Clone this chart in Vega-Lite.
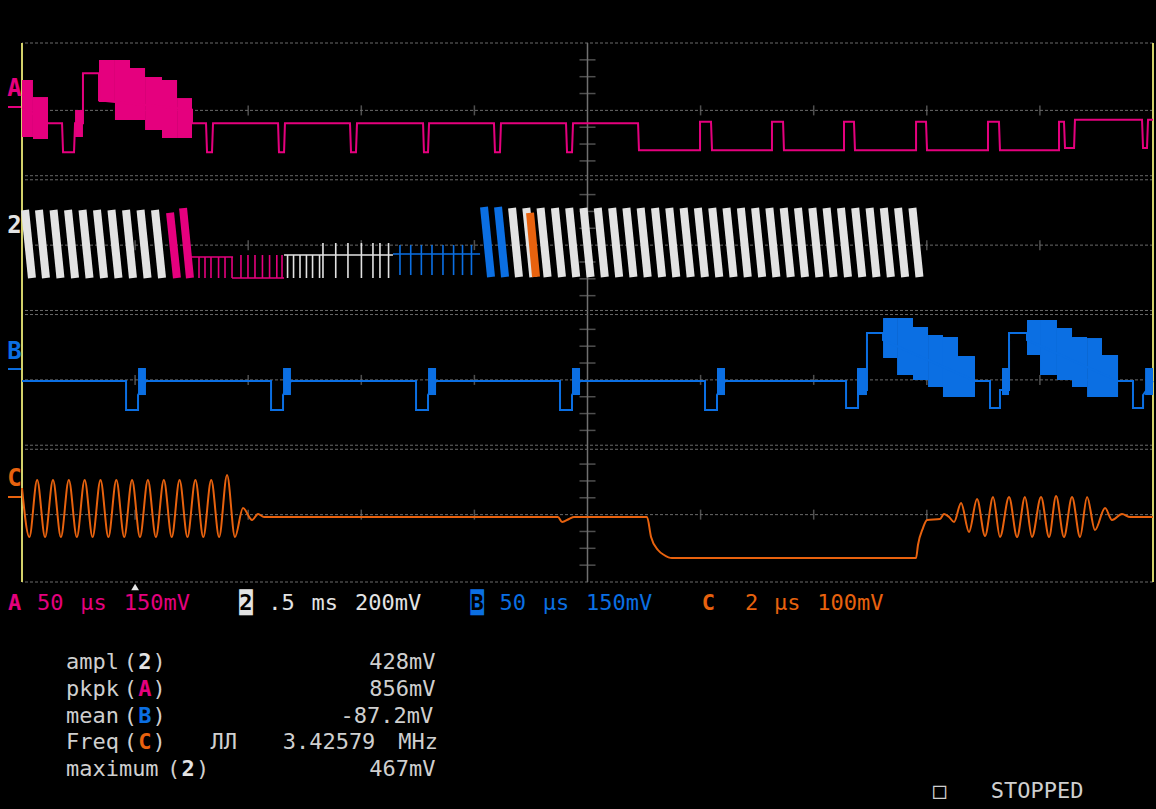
{
  "$schema": "https://vega.github.io/schema/vega-lite/v6.json",
  "width": 1131,
  "height": 539,
  "autosize": {"type": "none"},
  "padding": {"left": 22, "top": 43, "right": 3, "bottom": 227},
  "background": "#000000",
  "config": {"view": {"stroke": null}},
  "resolve": {"scale": {"x": "independent", "y": "independent"}},
  "datasets": {
    "gridH": [{"v":0},{"v":1},{"v":1.97},{"v":2.03},{"v":3},{"v":3.97},{"v":4.03},{"v":5},{"v":5.97},{"v":6.03},{"v":7},{"v":8}],
    "centerV": [{"t":5}],
    "border": [{"t":0},{"t":10}],
    "ticksV": [
      {"t":1,"v":1},{"t":2,"v":1},{"t":3,"v":1},{"t":4,"v":1},{"t":6,"v":1},{"t":7,"v":1},{"t":8,"v":1},{"t":9,"v":1},
      {"t":1,"v":3},{"t":2,"v":3},{"t":3,"v":3},{"t":4,"v":3},{"t":6,"v":3},{"t":7,"v":3},{"t":8,"v":3},{"t":9,"v":3},
      {"t":1,"v":5},{"t":2,"v":5},{"t":3,"v":5},{"t":4,"v":5},{"t":6,"v":5},{"t":7,"v":5},{"t":8,"v":5},{"t":9,"v":5},
      {"t":1,"v":7},{"t":2,"v":7},{"t":3,"v":7},{"t":4,"v":7},{"t":6,"v":7},{"t":7,"v":7},{"t":8,"v":7},{"t":9,"v":7}
    ],
    "ticksH": [
      {"t":5,"v":0.25},{"t":5,"v":0.5},{"t":5,"v":0.75},{"t":5,"v":1.25},{"t":5,"v":1.5},{"t":5,"v":1.75},
      {"t":5,"v":2.25},{"t":5,"v":2.5},{"t":5,"v":2.75},{"t":5,"v":3.25},{"t":5,"v":3.5},{"t":5,"v":3.75},
      {"t":5,"v":4.25},{"t":5,"v":4.5},{"t":5,"v":4.75},{"t":5,"v":5.25},{"t":5,"v":5.5},{"t":5,"v":5.75},
      {"t":5,"v":6.25},{"t":5,"v":6.5},{"t":5,"v":6.75},{"t":5,"v":7.25},{"t":5,"v":7.5},{"t":5,"v":7.75}
    ],
    "traceA": [
      {"t":0,"v":7.04},{"t":0.23,"v":6.81},{"t":0.354,"v":6.81},{"t":0.363,"v":6.38},{"t":0.46,"v":6.38},{"t":0.469,"v":6.81},
      {"t":0.495,"v":6.81},{"t":0.539,"v":6.81},{"t":0.539,"v":7.55},{"t":0.681,"v":7.55},{"t":0.681,"v":7.15},{"t":1.503,"v":7.01},
      {"t":1.503,"v":6.81},{"t":1.627,"v":6.81},{"t":1.636,"v":6.38},{"t":1.68,"v":6.38},{"t":1.689,"v":6.81},
      {"t":2.264,"v":6.81},{"t":2.272,"v":6.38},{"t":2.317,"v":6.38},{"t":2.325,"v":6.81},
      {"t":2.9,"v":6.81},{"t":2.909,"v":6.38},{"t":2.953,"v":6.38},{"t":2.962,"v":6.81},
      {"t":3.546,"v":6.81},{"t":3.554,"v":6.38},{"t":3.59,"v":6.38},{"t":3.599,"v":6.81},
      {"t":4.173,"v":6.81},{"t":4.182,"v":6.38},{"t":4.226,"v":6.38},{"t":4.235,"v":6.81},
      {"t":4.81,"v":6.81},{"t":4.819,"v":6.38},{"t":4.863,"v":6.38},{"t":4.872,"v":6.81},
      {"t":5.447,"v":6.81},{"t":5.455,"v":6.41},{"t":5.995,"v":6.41},{"t":5.995,"v":6.83},{"t":6.092,"v":6.83},{"t":6.101,"v":6.41},
      {"t":6.631,"v":6.41},{"t":6.631,"v":6.83},{"t":6.729,"v":6.83},{"t":6.737,"v":6.41},
      {"t":7.268,"v":6.41},{"t":7.268,"v":6.83},{"t":7.356,"v":6.83},{"t":7.365,"v":6.41},
      {"t":7.905,"v":6.41},{"t":7.905,"v":6.83},{"t":7.993,"v":6.83},{"t":8.002,"v":6.41},
      {"t":8.541,"v":6.41},{"t":8.541,"v":6.83},{"t":8.638,"v":6.83},{"t":8.647,"v":6.41},
      {"t":9.169,"v":6.41},{"t":9.169,"v":6.83},{"t":9.213,"v":6.83},{"t":9.222,"v":6.44},{"t":9.302,"v":6.44},{"t":9.31,"v":6.86},
      {"t":9.903,"v":6.86},{"t":9.912,"v":6.44},{"t":9.947,"v":6.44},{"t":9.956,"v":6.86},{"t":10,"v":6.86}
    ],
    "rectA": [
      {"t":0,"t2":0.097,"v":7.451,"v2":6.605},
      {"t":0.097,"t2":0.23,"v":7.198,"v2":6.575},
      {"t":0.469,"t2":0.539,"v":7.005,"v2":6.605},
      {"t":0.681,"t2":0.822,"v":7.748,"v2":7.124},
      {"t":0.822,"t2":0.955,"v":7.748,"v2":6.857},
      {"t":0.955,"t2":1.088,"v":7.629,"v2":6.857},
      {"t":1.088,"t2":1.238,"v":7.495,"v2":6.709},
      {"t":1.238,"t2":1.371,"v":7.451,"v2":6.59},
      {"t":1.371,"t2":1.503,"v":7.183,"v2":6.59}
    ],
    "teeth": [
      {"ch":"2","t":0.027,"v":5.521,"t2":0.088,"v2":4.512},
      {"ch":"2","t":0.15,"v":5.521,"t2":0.212,"v2":4.512},
      {"ch":"2","t":0.279,"v":5.521,"t2":0.34,"v2":4.512},
      {"ch":"2","t":0.407,"v":5.521,"t2":0.469,"v2":4.512},
      {"ch":"2","t":0.535,"v":5.521,"t2":0.597,"v2":4.512},
      {"ch":"2","t":0.663,"v":5.521,"t2":0.725,"v2":4.512},
      {"ch":"2","t":0.791,"v":5.521,"t2":0.853,"v2":4.512},
      {"ch":"2","t":0.92,"v":5.521,"t2":0.981,"v2":4.512},
      {"ch":"2","t":1.048,"v":5.521,"t2":1.11,"v2":4.512},
      {"ch":"2","t":1.176,"v":5.521,"t2":1.238,"v2":4.512},
      {"ch":"A","t":1.309,"v":5.48,"t2":1.37,"v2":4.512},
      {"ch":"A","t":1.424,"v":5.55,"t2":1.485,"v2":4.512},
      {"ch":"B","t":4.085,"v":5.566,"t2":4.147,"v2":4.527},
      {"ch":"B","t":4.209,"v":5.566,"t2":4.271,"v2":4.527},
      {"ch":"2","t":4.333,"v":5.551,"t2":4.394,"v2":4.527},
      {"ch":"2","t":4.459,"v":5.551,"t2":4.521,"v2":4.527},
      {"ch":"2","t":4.585,"v":5.551,"t2":4.647,"v2":4.527},
      {"ch":"2","t":4.712,"v":5.551,"t2":4.774,"v2":4.527},
      {"ch":"2","t":4.838,"v":5.551,"t2":4.9,"v2":4.527},
      {"ch":"2","t":4.965,"v":5.551,"t2":5.027,"v2":4.527},
      {"ch":"2","t":5.091,"v":5.551,"t2":5.153,"v2":4.527},
      {"ch":"2","t":5.218,"v":5.551,"t2":5.28,"v2":4.527},
      {"ch":"2","t":5.344,"v":5.551,"t2":5.406,"v2":4.527},
      {"ch":"2","t":5.47,"v":5.551,"t2":5.532,"v2":4.527},
      {"ch":"2","t":5.597,"v":5.551,"t2":5.659,"v2":4.527},
      {"ch":"2","t":5.723,"v":5.551,"t2":5.785,"v2":4.527},
      {"ch":"2","t":5.85,"v":5.551,"t2":5.912,"v2":4.527},
      {"ch":"2","t":5.976,"v":5.551,"t2":6.038,"v2":4.527},
      {"ch":"2","t":6.103,"v":5.551,"t2":6.165,"v2":4.527},
      {"ch":"2","t":6.229,"v":5.551,"t2":6.291,"v2":4.527},
      {"ch":"2","t":6.356,"v":5.551,"t2":6.417,"v2":4.527},
      {"ch":"2","t":6.482,"v":5.551,"t2":6.544,"v2":4.527},
      {"ch":"2","t":6.608,"v":5.551,"t2":6.67,"v2":4.527},
      {"ch":"2","t":6.735,"v":5.551,"t2":6.797,"v2":4.527},
      {"ch":"2","t":6.861,"v":5.551,"t2":6.923,"v2":4.527},
      {"ch":"2","t":6.988,"v":5.551,"t2":7.05,"v2":4.527},
      {"ch":"2","t":7.114,"v":5.551,"t2":7.176,"v2":4.527},
      {"ch":"2","t":7.241,"v":5.551,"t2":7.303,"v2":4.527},
      {"ch":"2","t":7.367,"v":5.551,"t2":7.429,"v2":4.527},
      {"ch":"2","t":7.494,"v":5.551,"t2":7.555,"v2":4.527},
      {"ch":"2","t":7.62,"v":5.551,"t2":7.682,"v2":4.527},
      {"ch":"2","t":7.746,"v":5.551,"t2":7.808,"v2":4.527},
      {"ch":"2","t":7.873,"v":5.551,"t2":7.935,"v2":4.527},
      {"ch":"C","t":4.492,"v":5.477,"t2":4.545,"v2":4.527}
    ],
    "combs": [
      {"ch":"A","t":1.494,"v":4.824,"t2":1.866,"v2":4.824},
      {"ch":"A","t":1.565,"v":4.824,"t2":1.565,"v2":4.512},
      {"ch":"A","t":1.618,"v":4.824,"t2":1.618,"v2":4.512},
      {"ch":"A","t":1.671,"v":4.824,"t2":1.671,"v2":4.512},
      {"ch":"A","t":1.738,"v":4.824,"t2":1.738,"v2":4.512},
      {"ch":"A","t":1.795,"v":4.824,"t2":1.795,"v2":4.512},
      {"ch":"A","t":1.857,"v":4.824,"t2":1.857,"v2":4.512},
      {"ch":"A","t":1.857,"v":4.512,"t2":2.317,"v2":4.512},
      {"ch":"A","t":1.936,"v":4.512,"t2":1.936,"v2":4.853},
      {"ch":"A","t":1.998,"v":4.512,"t2":1.998,"v2":4.853},
      {"ch":"A","t":2.06,"v":4.512,"t2":2.06,"v2":4.853},
      {"ch":"A","t":2.126,"v":4.512,"t2":2.126,"v2":4.853},
      {"ch":"A","t":2.189,"v":4.512,"t2":2.189,"v2":4.853},
      {"ch":"A","t":2.253,"v":4.512,"t2":2.253,"v2":4.853},
      {"ch":"A","t":2.299,"v":4.512,"t2":2.299,"v2":4.853},
      {"ch":"2","t":2.317,"v":4.853,"t2":3.28,"v2":4.853},
      {"ch":"2","t":2.348,"v":4.853,"t2":2.348,"v2":4.512},
      {"ch":"2","t":2.401,"v":4.853,"t2":2.401,"v2":4.512},
      {"ch":"2","t":2.458,"v":4.853,"t2":2.458,"v2":4.512},
      {"ch":"2","t":2.515,"v":4.853,"t2":2.515,"v2":4.512},
      {"ch":"2","t":2.569,"v":4.853,"t2":2.569,"v2":4.512},
      {"ch":"2","t":2.631,"v":4.853,"t2":2.631,"v2":4.512},
      {"ch":"2","t":2.661,"v":5.031,"t2":2.661,"v2":4.512},
      {"ch":"2","t":2.774,"v":5.031,"t2":2.774,"v2":4.512},
      {"ch":"2","t":2.882,"v":5.031,"t2":2.882,"v2":4.512},
      {"ch":"2","t":3.001,"v":5.031,"t2":3.001,"v2":4.512},
      {"ch":"2","t":3.103,"v":5.031,"t2":3.103,"v2":4.512},
      {"ch":"2","t":3.165,"v":5.031,"t2":3.165,"v2":4.512},
      {"ch":"2","t":3.241,"v":5.031,"t2":3.241,"v2":4.512},
      {"ch":"B","t":3.28,"v":4.868,"t2":4.05,"v2":4.868},
      {"ch":"B","t":3.342,"v":5.002,"t2":3.342,"v2":4.556},
      {"ch":"B","t":3.437,"v":5.002,"t2":3.437,"v2":4.556},
      {"ch":"B","t":3.531,"v":5.002,"t2":3.531,"v2":4.556},
      {"ch":"B","t":3.625,"v":5.002,"t2":3.625,"v2":4.556},
      {"ch":"B","t":3.722,"v":5.002,"t2":3.722,"v2":4.556},
      {"ch":"B","t":3.816,"v":5.002,"t2":3.816,"v2":4.556},
      {"ch":"B","t":3.895,"v":5.002,"t2":3.895,"v2":4.556},
      {"ch":"B","t":3.974,"v":5.002,"t2":3.974,"v2":4.556}
    ],
    "traceB": [
      {"t":0,"v":2.983},{"t":0.92,"v":2.983},{"t":0.92,"v":2.553},{"t":1.026,"v":2.553},{"t":1.026,"v":2.775},{"t":1.096,"v":2.983},
      {"t":2.202,"v":2.983},{"t":2.202,"v":2.553},{"t":2.308,"v":2.553},{"t":2.308,"v":2.775},{"t":2.378,"v":2.983},
      {"t":3.484,"v":2.983},{"t":3.484,"v":2.553},{"t":3.59,"v":2.553},{"t":3.59,"v":2.775},{"t":3.661,"v":2.983},
      {"t":4.757,"v":2.983},{"t":4.757,"v":2.553},{"t":4.863,"v":2.553},{"t":4.863,"v":2.775},{"t":4.934,"v":2.983},
      {"t":6.039,"v":2.983},{"t":6.039,"v":2.553},{"t":6.145,"v":2.553},{"t":6.145,"v":2.775},{"t":6.216,"v":2.983},
      {"t":7.286,"v":2.983},{"t":7.286,"v":2.583},{"t":7.392,"v":2.583},{"t":7.392,"v":2.85},{"t":7.471,"v":2.85},{"t":7.471,"v":3.696},
      {"t":7.613,"v":3.696},{"t":7.613,"v":3.592},{"t":8.426,"v":2.983},{"t":8.559,"v":2.983},{"t":8.559,"v":2.583},{"t":8.647,"v":2.583},
      {"t":8.647,"v":2.85},{"t":8.727,"v":2.85},{"t":8.727,"v":3.696},{"t":8.886,"v":3.696},{"t":8.886,"v":3.592},{"t":9.691,"v":2.983},
      {"t":9.823,"v":2.983},{"t":9.823,"v":2.583},{"t":9.912,"v":2.583},{"t":9.912,"v":2.775},{"t":10,"v":2.983}
    ],
    "rectB": [
      {"t":1.026,"t2":1.096,"v":3.176,"v2":2.775},
      {"t":2.308,"t2":2.378,"v":3.176,"v2":2.775},
      {"t":3.59,"t2":3.661,"v":3.176,"v2":2.775},
      {"t":4.863,"t2":4.934,"v":3.176,"v2":2.775},
      {"t":6.145,"t2":6.216,"v":3.176,"v2":2.775},
      {"t":7.383,"t2":7.471,"v":3.176,"v2":2.775},
      {"t":8.665,"t2":8.727,"v":3.176,"v2":2.775},
      {"t":9.93,"t2":10,"v":3.176,"v2":2.775},
      {"t":7.613,"t2":7.737,"v":3.918,"v2":3.325},
      {"t":7.737,"t2":7.878,"v":3.918,"v2":3.072},
      {"t":7.878,"t2":8.011,"v":3.785,"v2":2.998},
      {"t":8.011,"t2":8.143,"v":3.666,"v2":2.894},
      {"t":8.143,"t2":8.276,"v":3.636,"v2":2.746},
      {"t":8.276,"t2":8.426,"v":3.354,"v2":2.746},
      {"t":8.886,"t2":9.001,"v":3.889,"v2":3.369},
      {"t":9.001,"t2":9.151,"v":3.889,"v2":3.072},
      {"t":9.151,"t2":9.284,"v":3.77,"v2":2.998},
      {"t":9.284,"t2":9.417,"v":3.636,"v2":2.894},
      {"t":9.417,"t2":9.549,"v":3.621,"v2":2.746},
      {"t":9.549,"t2":9.691,"v":3.369,"v2":2.746}
    ],
    "traceC": [
      {"t":0,"v":1.395},{"t":0.065,"v":0.668},{"t":0.134,"v":1.514},{"t":0.204,"v":0.668},{"t":0.274,"v":1.514},
      {"t":0.344,"v":0.668},{"t":0.414,"v":1.514},{"t":0.485,"v":0.668},{"t":0.554,"v":1.514},{"t":0.624,"v":0.668},
      {"t":0.694,"v":1.514},{"t":0.764,"v":0.668},{"t":0.834,"v":1.514},{"t":0.904,"v":0.668},{"t":0.973,"v":1.514},
      {"t":1.043,"v":0.668},{"t":1.113,"v":1.514},{"t":1.184,"v":0.668},{"t":1.254,"v":1.514},{"t":1.324,"v":0.668},
      {"t":1.393,"v":1.514},{"t":1.463,"v":0.668},{"t":1.533,"v":1.514},{"t":1.603,"v":0.668},{"t":1.673,"v":1.514},
      {"t":1.743,"v":0.668},{"t":1.813,"v":1.588},{"t":1.883,"v":0.668},{"t":1.954,"v":1.098},{"t":2.034,"v":0.92},
      {"t":2.087,"v":1.009},{"t":2.14,"v":0.965},{"t":4.739,"v":0.965},{"t":4.775,"v":0.891},{"t":4.837,"v":0.935},
      {"t":4.881,"v":0.965},{"t":5.526,"v":0.965},{"t":5.562,"v":0.668},{"t":5.623,"v":0.475},{"t":5.677,"v":0.401},
      {"t":5.747,"v":0.356},{"t":7.905,"v":0.356},{"t":7.922,"v":0.549},{"t":7.966,"v":0.801},{"t":8.002,"v":0.92},
      {"t":8.117,"v":0.935},{"t":8.152,"v":1.009},{"t":8.197,"v":0.965},{"t":8.241,"v":0.891},{"t":8.303,"v":1.173},
      {"t":8.373,"v":0.742},{"t":8.444,"v":1.232},{"t":8.515,"v":0.683},{"t":8.586,"v":1.262},{"t":8.647,"v":0.668},
      {"t":8.727,"v":1.262},{"t":8.798,"v":0.668},{"t":8.868,"v":1.262},{"t":8.93,"v":0.668},{"t":9.01,"v":1.262},
      {"t":9.081,"v":0.668},{"t":9.143,"v":1.276},{"t":9.213,"v":0.668},{"t":9.284,"v":1.262},{"t":9.355,"v":0.668},
      {"t":9.417,"v":1.262},{"t":9.487,"v":0.772},{"t":9.576,"v":1.098},{"t":9.638,"v":0.92},{"t":9.726,"v":1.009},
      {"t":9.797,"v":0.965},{"t":10,"v":0.965}
    ],
    "chanLabels": [
      {"ch":"A","s":"A","t":-0.066,"v":7.317},
      {"ch":"2","s":"2","t":-0.066,"v":5.284},
      {"ch":"B","s":"B","t":-0.066,"v":3.414},
      {"ch":"C","s":"C","t":-0.066,"v":1.529}
    ],
    "gnd": [
      {"ch":"A","t":-0.124,"t2":-0.009,"v":7.05},
      {"ch":"B","t":-0.124,"t2":-0.009,"v":3.161},
      {"ch":"C","t":-0.124,"t2":-0.009,"v":1.262}
    ],
    "trig": [{"t":1.0,"v":-0.074}],
    "txt": [
      {"line":20.8,"col":2,"s":"50","ch":"A"},
      {"line":20.8,"col":5,"s":"μs","ch":"A"},
      {"line":20.8,"col":8,"s":"150mV","ch":"A"},
      {"line":20.8,"col":18,"s":".5","ch":"2"},
      {"line":20.8,"col":21,"s":"ms","ch":"2"},
      {"line":20.8,"col":24,"s":"200mV","ch":"2"},
      {"line":20.8,"col":34,"s":"50","ch":"B"},
      {"line":20.8,"col":37,"s":"μs","ch":"B"},
      {"line":20.8,"col":40,"s":"150mV","ch":"B"},
      {"line":20.8,"col":51,"s":"2","ch":"C"},
      {"line":20.8,"col":53,"s":"μs","ch":"C"},
      {"line":20.8,"col":56,"s":"100mV","ch":"C"},
      {"line":23,"col":4,"s":"ampl","ch":"T"},
      {"line":23,"col":8,"s":"(","ch":"T"},
      {"line":23,"col":10,"s":")","ch":"T"},
      {"line":23,"col":25,"s":"428mV","ch":"T"},
      {"line":24,"col":4,"s":"pkpk","ch":"T"},
      {"line":24,"col":8,"s":"(","ch":"T"},
      {"line":24,"col":10,"s":")","ch":"T"},
      {"line":24,"col":25,"s":"856mV","ch":"T"},
      {"line":25,"col":4,"s":"mean","ch":"T"},
      {"line":25,"col":8,"s":"(","ch":"T"},
      {"line":25,"col":10,"s":")","ch":"T"},
      {"line":25,"col":23,"s":"-87.2mV","ch":"T"},
      {"line":26,"col":4,"s":"Freq","ch":"T"},
      {"line":26,"col":8,"s":"(","ch":"T"},
      {"line":26,"col":10,"s":")","ch":"T"},
      {"line":26,"col":14,"s":"ЛЛ","ch":"T"},
      {"line":26,"col":19,"s":"3.42579","ch":"T"},
      {"line":26,"col":27,"s":"MHz","ch":"T"},
      {"line":27,"col":4,"s":"maximum","ch":"T"},
      {"line":27,"col":11,"s":"(","ch":"T"},
      {"line":27,"col":13,"s":")","ch":"T"},
      {"line":27,"col":25,"s":"467mV","ch":"T"},
      {"line":27.8,"col":64,"s":"□","ch":"T"},
      {"line":27.8,"col":68,"s":"STOPPED","ch":"T"}
    ],
    "txtBold": [
      {"line":20.8,"col":0,"s":"A","ch":"A"},
      {"line":20.8,"col":16,"s":"█","ch":"2"},
      {"line":20.8,"col":16,"s":"2","ch":"K"},
      {"line":20.8,"col":32,"s":"█","ch":"B"},
      {"line":20.8,"col":32,"s":"B","ch":"K"},
      {"line":20.8,"col":48,"s":"C","ch":"C"},
      {"line":23,"col":9,"s":"2","ch":"2"},
      {"line":24,"col":9,"s":"A","ch":"A"},
      {"line":25,"col":9,"s":"B","ch":"B"},
      {"line":26,"col":9,"s":"C","ch":"C"},
      {"line":27,"col":12,"s":"2","ch":"2"}
    ]
  },
  "layer": [
    {
      "data": {"name": "gridH"},
      "mark": {"type": "rule", "color": "#6a6a6a", "strokeWidth": 1, "strokeDash": [3, 2]},
      "encoding": {"y": {"field": "v", "type": "quantitative", "scale": {"domain": [0, 8], "nice": false, "zero": false}, "axis": null}}
    },
    {
      "data": {"name": "centerV"},
      "mark": {"type": "rule", "color": "#707070", "strokeWidth": 1.5},
      "encoding": {"x": {"field": "t", "type": "quantitative", "scale": {"domain": [0, 10], "nice": false, "zero": false}, "axis": null}}
    },
    {
      "data": {"name": "ticksV"},
      "mark": {"type": "tick", "orient": "vertical", "size": 10, "thickness": 1.5, "color": "#707070"},
      "encoding": {
        "x": {"field": "t", "type": "quantitative", "scale": {"domain": [0, 10], "nice": false, "zero": false}, "axis": null},
        "y": {"field": "v", "type": "quantitative", "scale": {"domain": [0, 8], "nice": false, "zero": false}, "axis": null}
      }
    },
    {
      "data": {"name": "ticksH"},
      "mark": {"type": "tick", "orient": "horizontal", "size": 16, "thickness": 1.5, "color": "#707070"},
      "encoding": {
        "x": {"field": "t", "type": "quantitative", "scale": {"domain": [0, 10], "nice": false, "zero": false}, "axis": null},
        "y": {"field": "v", "type": "quantitative", "scale": {"domain": [0, 8], "nice": false, "zero": false}, "axis": null}
      }
    },
    {
      "data": {"name": "border"},
      "mark": {"type": "rule", "color": "#d2d06a", "strokeWidth": 2},
      "encoding": {"x": {"field": "t", "type": "quantitative", "scale": {"domain": [0, 10], "nice": false, "zero": false}, "axis": null}}
    },
    {
      "data": {"name": "traceC"},
      "mark": {"type": "line", "color": "#e8620e", "strokeWidth": 2, "interpolate": "monotone"},
      "encoding": {
        "x": {"field": "t", "type": "quantitative", "scale": {"domain": [0, 10], "nice": false, "zero": false}, "axis": null},
        "y": {"field": "v", "type": "quantitative", "scale": {"domain": [0, 8], "nice": false, "zero": false}, "axis": null},
        "order": {"value": null}
      }
    },
    {
      "data": {"name": "rectB"},
      "mark": {"type": "rect", "color": "#0b6fe3"},
      "encoding": {
        "x": {"field": "t", "type": "quantitative", "scale": {"domain": [0, 10], "nice": false, "zero": false}, "axis": null},
        "x2": {"field": "t2"},
        "y": {"field": "v", "type": "quantitative", "scale": {"domain": [0, 8], "nice": false, "zero": false}, "axis": null},
        "y2": {"field": "v2"}
      }
    },
    {
      "data": {"name": "traceB"},
      "mark": {"type": "line", "color": "#0b6fe3", "strokeWidth": 2},
      "encoding": {
        "x": {"field": "t", "type": "quantitative", "scale": {"domain": [0, 10], "nice": false, "zero": false}, "axis": null},
        "y": {"field": "v", "type": "quantitative", "scale": {"domain": [0, 8], "nice": false, "zero": false}, "axis": null},
        "order": {"value": null}
      }
    },
    {
      "data": {"name": "rectA"},
      "mark": {"type": "rect", "color": "#e5007e"},
      "encoding": {
        "x": {"field": "t", "type": "quantitative", "scale": {"domain": [0, 10], "nice": false, "zero": false}, "axis": null},
        "x2": {"field": "t2"},
        "y": {"field": "v", "type": "quantitative", "scale": {"domain": [0, 8], "nice": false, "zero": false}, "axis": null},
        "y2": {"field": "v2"}
      }
    },
    {
      "data": {"name": "traceA"},
      "mark": {"type": "line", "color": "#e5007e", "strokeWidth": 2},
      "encoding": {
        "x": {"field": "t", "type": "quantitative", "scale": {"domain": [0, 10], "nice": false, "zero": false}, "axis": null},
        "y": {"field": "v", "type": "quantitative", "scale": {"domain": [0, 8], "nice": false, "zero": false}, "axis": null},
        "order": {"value": null}
      }
    },
    {
      "data": {"name": "combs"},
      "mark": {"type": "rule", "strokeWidth": 1.6},
      "encoding": {
        "x": {"field": "t", "type": "quantitative", "scale": {"domain": [0, 10], "nice": false, "zero": false}, "axis": null},
        "x2": {"field": "t2"},
        "y": {"field": "v", "type": "quantitative", "scale": {"domain": [0, 8], "nice": false, "zero": false}, "axis": null},
        "y2": {"field": "v2"},
        "color": {"field": "ch", "type": "nominal", "scale": {"domain": ["A", "2", "B", "C", "K", "T"], "range": ["#e5007e", "#e3e3e3", "#0b6fe3", "#e8620e", "#000000", "#cfcfcf"]}, "legend": null}
      }
    },
    {
      "data": {"name": "teeth"},
      "mark": {"type": "rule", "strokeWidth": 8, "strokeCap": "butt"},
      "encoding": {
        "x": {"field": "t", "type": "quantitative", "scale": {"domain": [0, 10], "nice": false, "zero": false}, "axis": null},
        "x2": {"field": "t2"},
        "y": {"field": "v", "type": "quantitative", "scale": {"domain": [0, 8], "nice": false, "zero": false}, "axis": null},
        "y2": {"field": "v2"},
        "color": {"field": "ch", "type": "nominal", "scale": {"domain": ["A", "2", "B", "C", "K", "T"], "range": ["#e5007e", "#e3e3e3", "#0b6fe3", "#e8620e", "#000000", "#cfcfcf"]}, "legend": null}
      }
    },
    {
      "data": {"name": "gnd"},
      "mark": {"type": "rule", "strokeWidth": 2},
      "encoding": {
        "x": {"field": "t", "type": "quantitative", "scale": {"domain": [0, 10], "nice": false, "zero": false}, "axis": null},
        "x2": {"field": "t2"},
        "y": {"field": "v", "type": "quantitative", "scale": {"domain": [0, 8], "nice": false, "zero": false}, "axis": null},
        "color": {"field": "ch", "type": "nominal", "scale": {"domain": ["A", "2", "B", "C", "K", "T"], "range": ["#e5007e", "#e3e3e3", "#0b6fe3", "#e8620e", "#000000", "#cfcfcf"]}, "legend": null}
      }
    },
    {
      "data": {"name": "chanLabels"},
      "mark": {"type": "text", "font": "DejaVu Sans Mono", "fontSize": 24, "fontWeight": "bold", "align": "center", "baseline": "middle"},
      "encoding": {
        "x": {"field": "t", "type": "quantitative", "scale": {"domain": [0, 10], "nice": false, "zero": false}, "axis": null},
        "y": {"field": "v", "type": "quantitative", "scale": {"domain": [0, 8], "nice": false, "zero": false}, "axis": null},
        "text": {"field": "s"},
        "color": {"field": "ch", "type": "nominal", "scale": {"domain": ["A", "2", "B", "C", "K", "T"], "range": ["#e5007e", "#e3e3e3", "#0b6fe3", "#e8620e", "#000000", "#cfcfcf"]}, "legend": null}
      }
    },
    {
      "data": {"name": "trig"},
      "mark": {"type": "point", "shape": "triangle-up", "filled": true, "size": 60, "color": "#e6e6e6", "opacity": 1},
      "encoding": {
        "x": {"field": "t", "type": "quantitative", "scale": {"domain": [0, 10], "nice": false, "zero": false}, "axis": null},
        "y": {"field": "v", "type": "quantitative", "scale": {"domain": [0, 8], "nice": false, "zero": false}, "axis": null}
      }
    },
    {
      "data": {"name": "txt"},
      "mark": {"type": "text", "font": "DejaVu Sans Mono", "fontSize": 22, "align": "left", "baseline": "middle"},
      "encoding": {
        "x": {"field": "col", "type": "quantitative", "scale": {"domain": [0, 80], "range": [-13.9, 1142.1], "nice": false, "zero": false}, "axis": null},
        "y": {"field": "line", "type": "quantitative", "scale": {"domain": [0, 30], "range": [0, 807], "nice": false, "zero": false}, "axis": null},
        "text": {"field": "s"},
        "color": {"field": "ch", "type": "nominal", "scale": {"domain": ["A", "2", "B", "C", "K", "T"], "range": ["#e5007e", "#e3e3e3", "#0b6fe3", "#e8620e", "#000000", "#cfcfcf"]}, "legend": null}
      }
    },
    {
      "data": {"name": "txtBold"},
      "mark": {"type": "text", "font": "DejaVu Sans Mono", "fontSize": 22, "fontWeight": "bold", "align": "left", "baseline": "middle"},
      "encoding": {
        "x": {"field": "col", "type": "quantitative", "scale": {"domain": [0, 80], "range": [-13.9, 1142.1], "nice": false, "zero": false}, "axis": null},
        "y": {"field": "line", "type": "quantitative", "scale": {"domain": [0, 30], "range": [0, 807], "nice": false, "zero": false}, "axis": null},
        "text": {"field": "s"},
        "color": {"field": "ch", "type": "nominal", "scale": {"domain": ["A", "2", "B", "C", "K", "T"], "range": ["#e5007e", "#e3e3e3", "#0b6fe3", "#e8620e", "#000000", "#cfcfcf"]}, "legend": null}
      }
    }
  ]
}
